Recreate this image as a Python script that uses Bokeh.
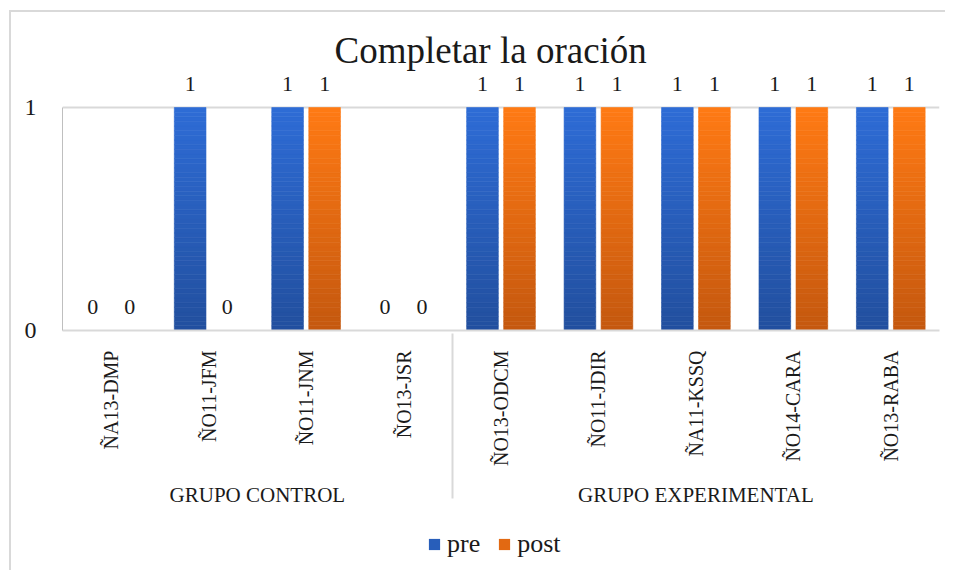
import math
from bokeh.plotting import figure
from bokeh.layouts import column
from bokeh.models import (ColumnDataSource, FactorRange, Range1d, FixedTicker, LabelSet,
                          Legend, LegendItem)
from bokeh.transform import dodge
from bokeh.embed import file_html
from bokeh.resources import INLINE

# ---- data ----
groups = ["GRUPO CONTROL"] * 4 + ["GRUPO EXPERIMENTAL"] * 5
categories = ["ÑA13-DMP", "ÑO11-JFM", "ÑO11-JNM", "ÑO13-JSR",
              "ÑO13-ODCM", "ÑO11-JDIR", "ÑA11-KSSQ", "ÑO14-CARA", "ÑO13-RABA"]
pre = [0, 1, 1, 0, 1, 1, 1, 1, 1]
post = [0, 0, 1, 0, 1, 1, 1, 1, 1]
series_names = ["pre", "post"]
title_text = "Completar la oración"
y_ticks = [0, 1]

FONT = "Liberation Serif"
TXT = "#1a1a1a"

factors = list(zip(groups, categories))

p = figure(x_range=FactorRange(factors=factors, group_padding=0, factor_padding=0,
                               range_padding=0),
           y_range=Range1d(0, 1.148),
           frame_width=877, frame_height=256,
           min_border_left=51, min_border_right=6, min_border_top=62, min_border_bottom=0,
           output_backend="svg", toolbar_location=None, title=title_text)
p.outline_line_color = None
p.background_fill_color = "white"
p.border_fill_color = "white"

p.title.text_font = FONT
p.title.text_font_size = "37px"
p.title.text_font_style = "normal"
p.title.text_color = TXT
p.title.align = "left"
p.title.offset = 272
p.title.standoff = 8


def mix(c1, c2, t):
    return "#%02x%02x%02x" % tuple(int(round(a + (b - a) * t)) for a, b in zip(c1, c2))


palettes = {
    "pre": ((46, 108, 214), (34, 79, 158)),
    "post": ((255, 122, 20), (196, 88, 15)),
}
offsets = {"pre": -0.19, "post": 0.19}
values = {"pre": pre, "post": post}
N = 48
for name in series_names:
    top_c, bot_c = palettes[name]
    xs, bottoms, tops, colors = [], [], [], []
    for f, v in zip(factors, values[name]):
        if v <= 0:
            continue
        for k in range(N):
            xs.append(f)
            bottoms.append(v * k / N)
            tops.append(v * (k + 1) / N)
            colors.append(mix(bot_c, top_c, (k + 0.5) / N))
    src = ColumnDataSource(dict(x=xs, bottom=bottoms, top=tops, color=colors))
    p.vbar(x=dodge("x", offsets[name], range=p.x_range), bottom="bottom", top="top",
           width=0.325, fill_color="color", line_color="color", line_width=0.6, source=src)

    lsrc = ColumnDataSource(dict(x=factors, y=values[name],
                                 t=[str(v) for v in values[name]]))
    labels = LabelSet(x=dodge("x", offsets[name], range=p.x_range), y="y", text="t",
                      source=lsrc, text_align="center", text_baseline="alphabetic",
                      y_offset=17, text_font=FONT, text_font_size="22px", text_color=TXT)
    p.add_layout(labels)

# axes
yax = p.yaxis[0]
yax.ticker = FixedTicker(ticks=y_ticks)
yax.bounds = (0, 1)
yax.major_tick_line_color = None
yax.minor_tick_line_color = None
yax.axis_line_color = "#bfbfbf"
yax.major_label_standoff = 20
yax.major_label_text_font = FONT
yax.major_label_text_font_size = "24px"
yax.major_label_text_color = TXT

p.ygrid.grid_line_color = "#d9d9d9"
p.ygrid.grid_line_width = 2
p.xgrid.grid_line_color = None

xax = p.xaxis[0]
xax.axis_line_color = "#d9d9d9"
xax.axis_line_width = 2
xax.major_tick_line_color = None
xax.minor_tick_line_color = None
xax.major_label_orientation = math.pi / 2
xax.major_label_standoff = 14
xax.major_label_text_font = FONT
xax.major_label_text_font_size = "20px"
xax.major_label_text_color = TXT
xax.group_text_font = FONT
xax.group_text_font_size = "21px"
xax.group_text_font_style = "normal"
xax.group_text_color = TXT
xax.separator_line_color = "#d9d9d9"
xax.separator_line_width = 2

# ---- legend strip below the chart ----
lg = figure(width=934, height=60, x_range=Range1d(0, 1), y_range=Range1d(0, 1),
            x_axis_type=None, y_axis_type=None, min_border=0,
            output_backend="svg", toolbar_location=None)
lg.outline_line_color = None
lg.xgrid.visible = False
lg.ygrid.visible = False
lg.background_fill_color = "white"
lg.border_fill_color = "white"
items = []
for name in series_names:
    top_c, bot_c = palettes[name]
    # legend proxy placed outside the visible range
    r = lg.vbar(x=[-10], top=[0], bottom=[0], width=0.1,
                fill_color=mix(bot_c, top_c, 0.5), line_color=None)
    items.append(LegendItem(label=name, renderers=[r]))
legend = Legend(items=items, orientation="horizontal", location=(365, 11),
                label_text_font=FONT, label_text_font_size="26px", label_text_color=TXT,
                glyph_width=14, glyph_height=14, label_standoff=6, spacing=17,
                border_line_color=None, background_fill_alpha=0, margin=0, padding=2)
lg.add_layout(legend)

layout = column(p, lg, spacing=0)
layout.styles = {"margin-left": "9px", "margin-top": "10px",
                 "border-top": "2px solid #d9d9d9", "border-left": "2px solid #d9d9d9"}

open("out.html", "w").write(file_html(layout, INLINE))
